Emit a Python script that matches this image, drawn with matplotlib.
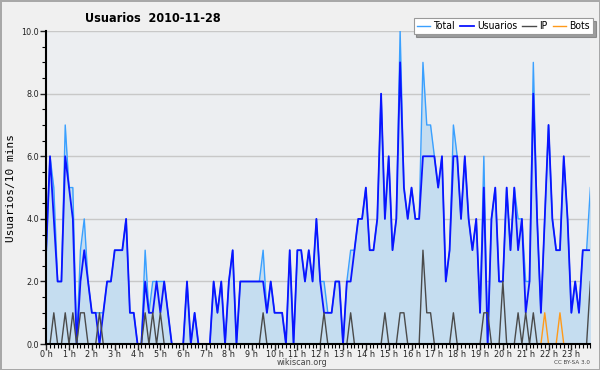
import matplotlib
matplotlib.use('Agg')
import matplotlib.pyplot as plt
from matplotlib.ticker import MultipleLocator, FormatStrFormatter
import numpy as np

# Datos: usuarios por tramo de 10 minutos (144 tramos en el dia)
total = [3, 6, 5, 2, 2, 7, 5, 5, 0, 3, 4, 2, 1, 1, 1, 1, 2, 2, 3, 3,
         3, 4, 1, 1, 0, 0, 3, 1, 2, 2, 2, 2, 1, 0, 0, 0, 0, 2, 0, 1,
         0, 0, 0, 0, 2, 1, 2, 0, 2, 3, 0, 2, 2, 2, 2, 2, 2, 3, 1, 2,
         1, 1, 1, 0, 3, 0, 3, 3, 2, 3, 2, 4, 2, 2, 1, 1, 2, 2, 0, 2,
         3, 3, 4, 4, 5, 3, 3, 4, 8, 4, 6, 3, 4, 10, 5, 4, 5, 4, 4, 9,
         7, 7, 6, 5, 6, 2, 3, 7, 6, 4, 6, 4, 3, 4, 1, 6, 0, 4, 5, 2,
         2, 5, 3, 5, 4, 4, 2, 2, 9, 4, 1, 4, 7, 4, 3, 3, 6, 4, 1, 2,
         1, 3, 3, 5]
usuarios = [3, 6, 4, 2, 2, 6, 5, 4, 0, 2, 3, 2, 1, 1, 0, 1, 2, 2, 3, 3,
            3, 4, 1, 1, 0, 0, 2, 1, 1, 2, 1, 2, 1, 0, 0, 0, 0, 2, 0, 1,
            0, 0, 0, 0, 2, 1, 2, 0, 2, 3, 0, 2, 2, 2, 2, 2, 2, 2, 1, 2,
            1, 1, 1, 0, 3, 0, 3, 3, 2, 3, 2, 4, 2, 1, 1, 1, 2, 2, 0, 2,
            2, 3, 4, 4, 5, 3, 3, 4, 8, 4, 6, 3, 4, 9, 5, 4, 5, 4, 4, 6,
            6, 6, 6, 5, 6, 2, 3, 6, 6, 4, 6, 4, 3, 4, 1, 5, 0, 4, 5, 2,
            2, 5, 3, 5, 3, 4, 1, 2, 8, 4, 1, 4, 7, 4, 3, 3, 6, 4, 1, 2,
            1, 3, 3, 3]
ip = [0, 0, 1, 0, 0, 1, 0, 1, 0, 1, 1, 0, 0, 0, 1, 0, 0, 0, 0, 0,
      0, 0, 0, 0, 0, 0, 1, 0, 1, 0, 1, 0, 0, 0, 0, 0, 0, 0, 0, 0,
      0, 0, 0, 0, 0, 0, 0, 0, 0, 0, 0, 0, 0, 0, 0, 0, 0, 1, 0, 0,
      0, 0, 0, 0, 0, 0, 0, 0, 0, 0, 0, 0, 0, 1, 0, 0, 0, 0, 0, 0,
      1, 0, 0, 0, 0, 0, 0, 0, 0, 1, 0, 0, 0, 1, 1, 0, 0, 0, 0, 3,
      1, 1, 0, 0, 0, 0, 0, 1, 0, 0, 0, 0, 0, 0, 0, 1, 1, 0, 0, 0,
      2, 0, 0, 0, 1, 0, 1, 0, 1, 0, 0, 0, 0, 0, 0, 0, 0, 0, 0, 0,
      0, 0, 0, 2]
bots = [0] * 131 + [1, 0, 0, 0, 1] + [0] * 8
horas = [str(h) + ' h' for h in range(24)]

x = np.arange(len(total))
fuente = dict(family='DejaVu Sans', stretch='condensed')

fig = plt.figure(figsize=(6, 3.7), dpi=100)
fig.patch.set_facecolor('#f0f0f0')
fig.patch.set_edgecolor('#a8a8a8')
fig.patch.set_linewidth(2)

ax = fig.add_axes([0.077, 0.07, 0.907, 0.846])
ax.set_facecolor('#eceef1')

ax.fill_between(x, total, 0, color='#c5ddf0', zorder=1, lw=0)
ax.plot(x, total, color='#3aa0ff', lw=1.0, label='Total', zorder=3)
ax.plot(x, usuarios, color='#0a14ff', lw=1.3, label='Usuarios', zorder=4)
ax.plot(x, bots, color='#ff9a1a', lw=1.0, label='Bots', zorder=5)
ax.plot(x, ip, color='#4a4a4a', lw=1.0, label='IP', zorder=6)

ax.set_xlim(0, 143)
ax.set_ylim(0, 10)
ax.yaxis.set_major_locator(MultipleLocator(2))
ax.yaxis.set_minor_locator(MultipleLocator(0.5))
ax.yaxis.set_major_formatter(FormatStrFormatter('%.1f'))
ax.set_xticks(np.arange(0, 144, 6))
ax.set_xticklabels(horas)
ax.set_xticks(x, minor=True)
ax.grid(axis='y', which='major', color='#c8c8c8', lw=1, zorder=0)
ax.set_axisbelow(True)

for s in ['top', 'right']:
    ax.spines[s].set_visible(False)
for s in ['left', 'bottom']:
    ax.spines[s].set_linewidth(1.5)
    ax.spines[s].set_zorder(10)

ax.tick_params(axis='both', which='major', length=4, width=1, labelsize=6.5, pad=1, colors='#222222')
ax.tick_params(axis='x', which='major', pad=0)
ax.tick_params(axis='both', which='minor', length=3, width=0.8)
for t in ax.get_xticklabels() + ax.get_yticklabels():
    t.set_fontstretch('condensed')
ax.set_ylabel('Usuarios/10 mins', fontsize=8, family='DejaVu Sans Mono', labelpad=4)

fig.text(0.503, 0.02, 'wikiscan.org', fontsize=6.5, color='#444444', ha='center', va='center', **fuente)
fig.text(0.142, 0.95, 'Usuarios  2010-11-28', fontsize=9, fontweight='bold', va='center', **fuente)
fig.text(0.983, 0.016, 'CC BY-SA 3.0', fontsize=4.5, color='#444444', ha='right', **fuente)

h, l = ax.get_legend_handles_labels()
orden = [0, 1, 3, 2]
leg = fig.legend([h[i] for i in orden], [l[i] for i in orden], loc='upper right',
                 bbox_to_anchor=(0.997, 0.965), ncol=4,
                 prop=dict(size=7.5, **fuente),
                 handlelength=1.3, handletextpad=0.3, columnspacing=0.5,
                 fancybox=False, shadow=True, edgecolor='#999999',
                 framealpha=1, borderpad=0.3)
leg.get_frame().set_linewidth(0.8)

fig.savefig('out.png', dpi=100, facecolor=fig.get_facecolor(), edgecolor=fig.get_edgecolor())
